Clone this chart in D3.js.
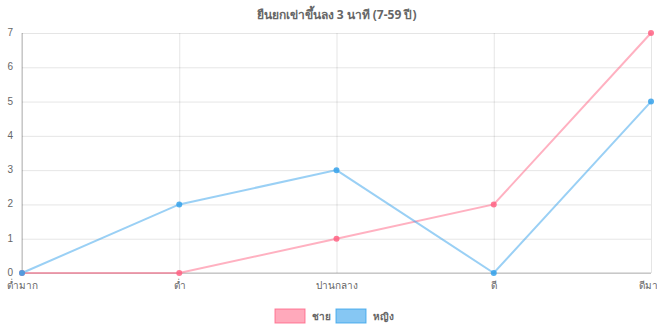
<!DOCTYPE html>
<html><head><meta charset="utf-8">
<script src="https://cdn.jsdelivr.net/npm/d3@7/dist/d3.min.js"></script>
<style>body{margin:0;background:#fff;}svg{display:block;font-family:"Noto Sans","Liberation Sans",Arial,sans-serif;}</style>
</head><body>
<script>
const categories = ["ต่ำมาก", "ต่ำ", "ปานกลาง", "ดี", "ดีมาก"];
const maleValues = [0, 0, 1, 2, 7];
const femaleValues = [0, 2, 3, 0, 5];
const yTicks = [0, 1, 2, 3, 4, 5, 6, 7];
const seriesNames = ["ชาย", "หญิง"];
const title = "ยืนยกเข่าขึ้นลง 3 นาที (7-59 ปี)";

const W = 657, H = 326;
const m = {left: 22, right: 6, top: 33, bottom: 53};
const svg = d3.select("body").append("svg").attr("width", W).attr("height", H);

const x = d3.scalePoint().domain(categories).range([m.left, W - m.right]);
const y = d3.scaleLinear().domain([0, 7]).range([H - m.bottom, m.top]);

svg.append("text").attr("x", (m.left + W - m.right) / 2).attr("y", 19)
  .attr("text-anchor", "middle").attr("font-size", 12).attr("font-weight", "bold")
  .attr("fill", "#666").text(title);

const gy = svg.append("g").attr("transform", `translate(${m.left},0)`)
  .call(d3.axisLeft(y).tickValues(yTicks).tickFormat(d3.format("d")).tickSize(-(W - m.left - m.right)).tickPadding(6));
gy.select(".domain").remove();
gy.selectAll(".tick line").attr("stroke", "rgba(0,0,0,0.1)");
gy.selectAll(".tick text").attr("fill", "#666").attr("font-size", 10).attr("x", -9).attr("dy", "0.25em");

const gx = svg.append("g").attr("transform", `translate(0,${H - m.bottom})`)
  .call(d3.axisBottom(x).tickSize(-(H - m.top - m.bottom)).tickPadding(9));
gx.select(".domain").remove();
gx.selectAll(".tick line").attr("stroke", "rgba(0,0,0,0.1)");
gx.selectAll(".tick text").attr("fill", "#666").attr("font-size", 10);

svg.append("line").attr("x1", m.left).attr("x2", W - m.right).attr("y1", y(0)).attr("y2", y(0))
  .attr("stroke", "rgba(0,0,0,0.25)");
svg.append("line").attr("x1", m.left).attr("x2", m.left).attr("y1", y(7)).attr("y2", y(0))
  .attr("stroke", "rgba(0,0,0,0.25)");

const series = [
  {name: seriesNames[0], values: maleValues, stroke: "rgba(255,99,132,0.5)", fill: "rgba(255,99,132,0.55)", border: "rgba(255,99,132,0.8)", point: "rgba(255,99,132,0.85)"},
  {name: seriesNames[1], values: femaleValues, stroke: "rgba(54,162,235,0.5)", fill: "rgba(54,162,235,0.6)", border: "rgba(54,162,235,0.8)", point: "rgba(54,162,235,0.85)"}
];
const line = d3.line().x((d, i) => x(categories[i])).y(d => y(d));
series.forEach(s => {
  svg.append("path").datum(s.values).attr("d", line).attr("fill", "none")
    .attr("stroke", s.stroke).attr("stroke-width", 2);
});
series.forEach(s => {
  svg.selectAll(null).data(s.values).enter().append("circle")
    .attr("cx", (d, i) => x(categories[i])).attr("cy", d => y(d)).attr("r", 3)
    .attr("fill", s.point);
});

const lg = svg.append("g");
const legendX = [275, 336];
series.forEach((s, i) => {
  lg.append("rect").attr("x", legendX[i]).attr("y", 309).attr("width", 30).attr("height", 14)
    .attr("fill", s.fill).attr("stroke", s.border).attr("stroke-width", 1);
  lg.append("text").attr("x", legendX[i] + 37).attr("y", 320).attr("font-size", 10)
    .attr("font-weight", "bold").attr("fill", "#666").text(s.name);
});
</script>
</body></html>
